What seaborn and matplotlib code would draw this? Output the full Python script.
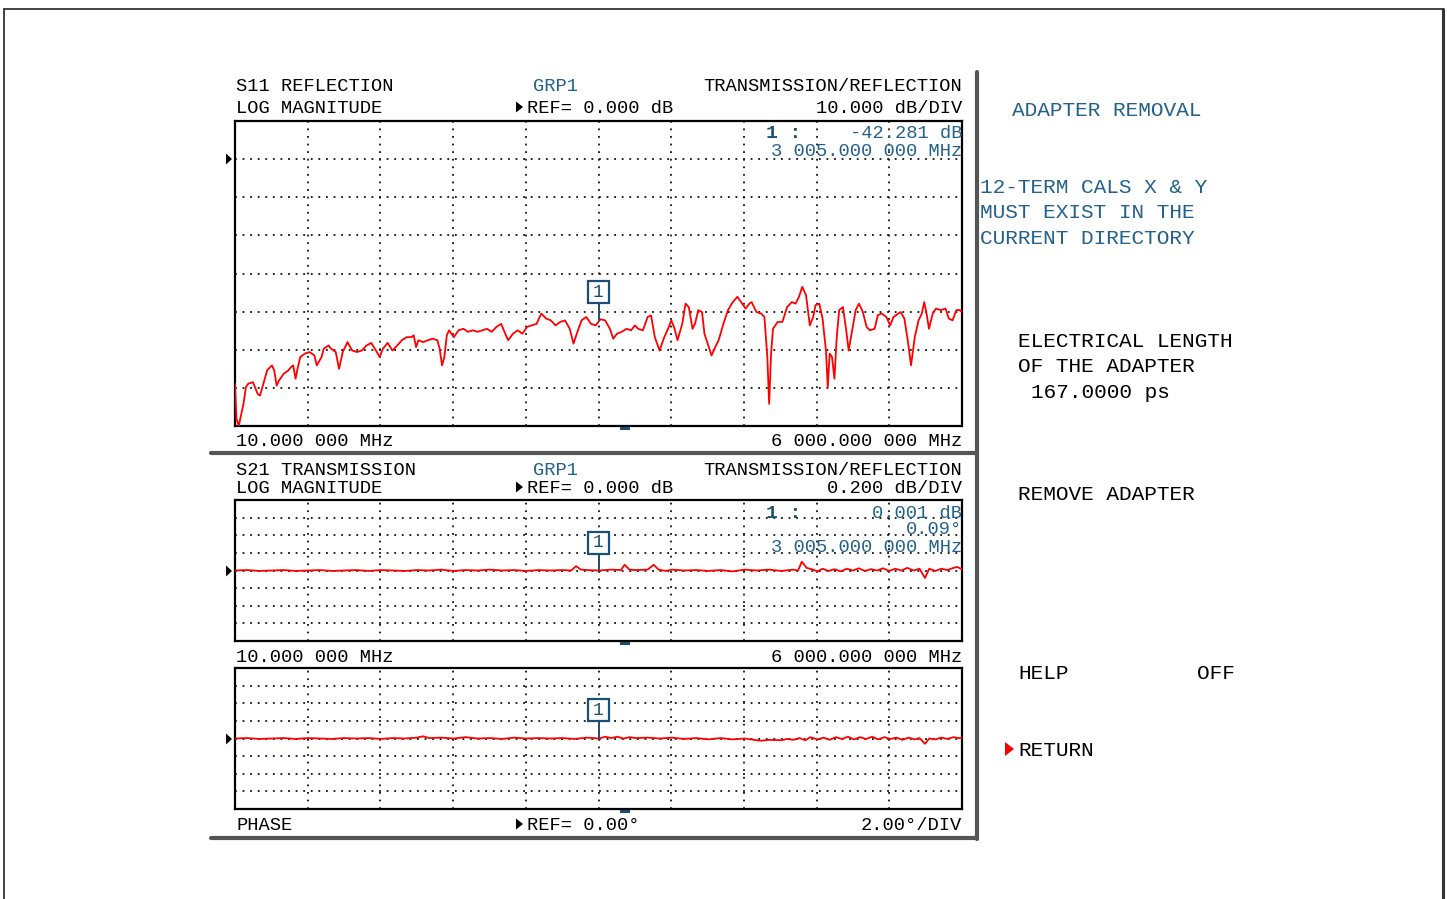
import numpy as np
import pandas as pd
import matplotlib
matplotlib.use("Agg")
import matplotlib.pyplot as plt
import seaborn as sns
from matplotlib.patches import Rectangle, Polygon
from matplotlib.lines import Line2D

# ---------------- data ----------------
F_START, F_STOP = 10, 6000          # MHz
MARKER_F = 3005                     # MHz
MARKER_S11 = -42.281                # dB
MARKER_S21 = 0.001                  # dB
MARKER_PH = 0.09                    # deg

s11_freq = [10, 22, 41, 80, 100, 119, 158, 197, 216, 236, 275, 314, 333, 353, 372, 411, 450, 470, 489, 509,
            528, 548, 586, 625, 664, 684, 723, 742, 781, 801, 840, 867, 898, 937, 976, 1015, 1054, 1093, 1132, 1171,
            1202, 1229, 1268, 1307, 1346, 1385, 1424, 1463, 1482, 1502, 1521, 1560, 1599, 1638, 1677, 1696, 1716, 1735, 1755, 1774,
            1813, 1852, 1891, 1930, 1969, 2008, 2047, 2086, 2125, 2164, 2203, 2242, 2261, 2300, 2339, 2378, 2417, 2456, 2495, 2534,
            2573, 2612, 2651, 2690, 2729, 2768, 2799, 2826, 2865, 2904, 2943, 2982, 3021, 3060, 3099, 3126, 3157, 3196, 3235, 3274,
            3305, 3332, 3371, 3410, 3438, 3469, 3508, 3547, 3578, 3605, 3632, 3656, 3695, 3722, 3749, 3780, 3800, 3827, 3858, 3878,
            3905, 3936, 3967, 3995, 4034, 4072, 4111, 4150, 4189, 4217, 4248, 4267, 4306, 4345, 4372, 4396, 4411, 4427, 4443, 4481,
            4520, 4559, 4598, 4629, 4657, 4684, 4715, 4746, 4774, 4793, 4824, 4851, 4879, 4894, 4910, 4929, 4949, 4968, 4988, 5019,
            5046, 5066, 5097, 5124, 5151, 5183, 5214, 5241, 5280, 5307, 5338, 5377, 5408, 5436, 5475, 5494, 5525, 5553, 5580, 5611,
            5642, 5669, 5689, 5708, 5728, 5759, 5786, 5825, 5864, 5891, 5922, 5954, 5981, 6000]
s11_db = [-58.9, -68.1, -69.9, -64.2, -59.8, -58.9, -58.5, -61.6, -62.0, -59.8, -55.4, -54.1, -55.4, -59.4, -58.1, -56.3, -55.4, -54.6, -54.1, -57.6,
          -54.6, -51.9, -51.0, -50.6, -51.5, -54.1, -51.9, -49.7, -48.9, -49.7, -50.6, -55.0, -50.6, -48.0, -50.2, -50.6, -50.2, -48.9, -48.2, -50.2,
          -51.9, -49.7, -48.2, -50.2, -48.9, -47.5, -46.7, -46.7, -46.2, -49.3, -47.5, -48.0, -47.5, -47.1, -47.5, -49.7, -54.1, -51.9, -46.2, -44.9,
          -46.7, -44.9, -44.5, -45.3, -44.9, -45.3, -44.9, -44.5, -45.3, -44.0, -43.2, -46.2, -47.5, -45.8, -44.9, -45.8, -44.0, -43.6, -43.2, -40.5,
          -41.8, -42.3, -43.6, -42.7, -42.3, -44.5, -48.4, -45.8, -42.3, -41.4, -43.2, -43.6, -42.0, -42.3, -44.5, -47.1, -45.8, -45.3, -44.5, -44.9,
          -43.6, -44.5, -44.9, -41.4, -41.0, -46.7, -50.2, -46.7, -44.5, -42.3, -44.5, -47.5, -43.2, -37.9, -38.8, -44.5, -43.2, -39.6, -40.1, -45.8,
          -48.4, -51.5, -49.3, -47.5, -43.2, -39.6, -37.5, -36.1, -37.9, -39.2, -37.9, -37.5, -40.1, -40.5, -41.4, -51.9, -64.2, -51.0, -44.5, -42.7,
          -42.7, -38.8, -37.5, -37.9, -36.1, -33.5, -35.7, -43.6, -41.4, -38.3, -37.9, -41.8, -50.2, -59.8, -51.0, -51.9, -57.6, -46.7, -39.6, -38.8,
          -44.9, -50.2, -44.5, -39.6, -37.9, -40.1, -44.0, -44.9, -44.5, -40.9, -40.5, -41.4, -43.6, -41.4, -40.5, -40.1, -41.8, -47.5, -54.1, -46.7,
          -42.3, -40.5, -37.5, -40.5, -44.5, -40.5, -39.2, -39.6, -39.2, -41.8, -42.3, -39.6, -39.6, -40.1]

s21_freq = [10, 110, 210, 310, 410, 510, 610, 710, 810, 910, 1010, 1110, 1210, 1310, 1410, 1510, 1610, 1710, 1810, 1910,
            2010, 2110, 2210, 2310, 2410, 2510, 2610, 2710, 2780, 2820, 2860, 2910, 3010, 3110, 3190, 3220, 3260, 3310, 3410, 3460,
            3500, 3560, 3610, 3710, 3810, 3910, 4010, 4110, 4210, 4310, 4410, 4510, 4610, 4650, 4680, 4720, 4760, 4810, 4850, 4900,
            4950, 5000, 5050, 5100, 5150, 5200, 5250, 5300, 5350, 5400, 5450, 5500, 5550, 5600, 5650, 5695, 5730, 5780, 5830, 5880,
            5930, 5960, 6000]
s21_db = [0.000, 0.005, -0.005, 0.000, 0.005, -0.005, 0.000, 0.005, -0.005, 0.000, 0.005, -0.005, 0.005, 0.000, -0.005, 0.005, 0.000, 0.010, -0.005, 0.005,
          0.000, 0.010, 0.000, 0.005, -0.005, 0.005, 0.000, 0.005, 0.000, 0.050, 0.010, 0.005, 0.000, 0.010, 0.005, 0.065, 0.010, 0.005, 0.010, 0.065,
          0.010, -0.005, 0.010, 0.000, 0.005, -0.005, 0.005, -0.010, 0.010, 0.000, 0.010, -0.005, 0.010, 0.000, 0.100, 0.030, 0.015, -0.010, 0.020, -0.005,
          0.015, -0.010, 0.020, 0.000, 0.025, -0.005, 0.015, 0.000, 0.025, -0.005, 0.020, 0.000, 0.030, 0.000, 0.020, -0.085, 0.020, -0.005, 0.020, 0.005,
          0.030, 0.040, 0.015]

ph_freq = [10, 110, 210, 310, 410, 510, 610, 710, 810, 910, 1010, 1110, 1210, 1310, 1410, 1510, 1560, 1610, 1710, 1810,
           1910, 2010, 2110, 2210, 2310, 2410, 2510, 2610, 2710, 2810, 2910, 3010, 3060, 3110, 3160, 3210, 3260, 3310, 3410, 3510,
           3610, 3710, 3810, 3910, 4010, 4110, 4210, 4310, 4350, 4410, 4510, 4560, 4610, 4660, 4710, 4750, 4810, 4860, 4910, 4960,
           5010, 5060, 5110, 5160, 5210, 5260, 5310, 5360, 5410, 5460, 5510, 5560, 5610, 5650, 5695, 5730, 5780, 5830, 5880, 5930,
           5970, 6000]
ph_deg = [0.00, 0.05, -0.05, 0.00, 0.05, -0.05, 0.05, 0.00, -0.05, 0.05, 0.00, 0.05, -0.05, 0.05, 0.00, 0.10, 0.25, 0.05, 0.10, 0.00,
          0.15, 0.00, 0.05, -0.05, 0.10, 0.00, 0.05, 0.00, 0.05, -0.05, 0.10, 0.00, 0.20, 0.05, 0.20, 0.00, 0.15, 0.05, 0.10, 0.00,
          0.10, -0.05, 0.05, -0.10, 0.05, -0.10, 0.00, -0.20, -0.25, -0.15, -0.20, -0.05, -0.15, 0.05, -0.20, 0.15, -0.10, 0.10, -0.15, 0.15,
          -0.05, 0.20, -0.10, 0.15, -0.05, 0.20, -0.10, 0.15, -0.05, 0.10, -0.15, 0.10, -0.10, 0.05, -0.60, 0.00, -0.10, 0.10, -0.05, 0.15,
          0.05, 0.10]

# ---------------- style ----------------
sns.set_theme(style="white")
plt.rcParams['font.family'] = ['Liberation Mono', 'DejaVu Sans Mono', 'DejaVu Sans']

W, H = 1447, 899
BLUE = '#23618c'
DKBLUE = '#1b4f72'
RED = '#ff0000'
FS = 13.5
FS_R = 15.2

fig = plt.figure(figsize=(W / 100, H / 100), dpi=100)
fig.patch.set_facecolor('white')


def ax_at(x0, y0, x1, y1):
    return fig.add_axes([x0 / W, 1 - y1 / H, (x1 - x0) / W, (y1 - y0) / H])


def make_plot(box, df, ycol, ylim, step, box_center, marker_val):
    x0, y0, x1, y1 = box
    ax = ax_at(x0, y0, x1, y1)
    ax.set_facecolor('white')
    ax.set_xlim(F_START, F_STOP)
    ax.set_ylim(*ylim)
    ax.set_xticks([]); ax.set_yticks([])
    for s in ax.spines.values():
        s.set_visible(True); s.set_color('black'); s.set_linewidth(1.6)
    div_f = (F_STOP - F_START) / 10
    for k in range(1, 10):
        ax.axvline(F_START + k * div_f, color='#111111', lw=1.3, ls=(0, (1, 3.2)), zorder=1)
    yv = ylim[0] + step
    while yv < ylim[1] - step / 2:
        ax.axhline(yv, color='#111111', lw=1.3, ls=(0, (1, 3.2)), zorder=1)
        yv += step
    sns.lineplot(data=df, x='freq', y=ycol, ax=ax, color=RED, lw=1.3, sort=False,
                 estimator=None, legend=False, zorder=3)
    ax.set_xlabel(''); ax.set_ylabel('')
    # marker box
    px_w = (x1 - x0) / (F_STOP - F_START)
    px_h = (y1 - y0) / (ylim[1] - ylim[0])
    bw = 21 / px_w
    bh = 22 / px_h
    ax.plot([MARKER_F, MARKER_F], [marker_val, box_center - bh / 2], color=DKBLUE, lw=1.4, zorder=4)
    ax.add_patch(Rectangle((MARKER_F - bw / 2, box_center - bh / 2), bw, bh, fc='white', ec=DKBLUE,
                           lw=1.6, zorder=5))
    ax.text(MARKER_F, box_center, '1', color=DKBLUE, fontsize=13, ha='center', va='center', zorder=6)
    return ax


df11 = pd.DataFrame({'freq': s11_freq, 'db': s11_db})
df21 = pd.DataFrame({'freq': s21_freq, 'db': s21_db})
dfph = pd.DataFrame({'freq': ph_freq, 'deg': ph_deg})

ax1 = make_plot((235, 121, 962, 426), df11, 'db', (-70, 10), 10, -34.9, MARKER_S11)
ax2 = make_plot((235, 500, 962, 641), df21, 'db', (-0.8, 0.8), 0.2, 0.3125, MARKER_S21)
ax3 = make_plot((235, 668, 962, 809), dfph, 'deg', (-8, 8), 2, 3.18, MARKER_PH)

# overlay in pixel coordinates
bg = fig.add_axes([0, 0, 1, 1], zorder=10)
bg.set_xlim(0, W); bg.set_ylim(H, 0); bg.axis('off')
bg.patch.set_alpha(0)

# frame lines
bg.add_line(Line2D([4, 1443], [9, 9], color='#333333', lw=1.3))
bg.add_line(Line2D([4, 4], [9, 899], color='#333333', lw=1.3))
bg.add_line(Line2D([1443, 1443], [9, 899], color='#333333', lw=2.2))
bg.add_line(Line2D([977, 977], [72, 839], color='#555555', lw=3))
bg.add_line(Line2D([211, 977], [453, 453], color='#555555', lw=3))
bg.add_line(Line2D([211, 977], [838, 838], color='#555555', lw=3))


def t(x, yc, s, color='black', ha='left', fs=FS, weight='normal'):
    bg.text(x, yc + (5.8 if fs < 14 else 6.8), s, color=color, ha=ha, va='baseline', fontsize=fs,
            fontweight=weight)


def tri(x, yc, color='black', w=6, h=10):
    bg.add_patch(Polygon([[x, yc - h / 2], [x, yc + h / 2], [x + w, yc]], closed=True, fc=color, ec='none'))


# plot 1 header
t(236, 85, 'S11 REFLECTION')
t(533, 85, 'GRP1', color=BLUE)
t(962, 85, 'TRANSMISSION/REFLECTION', ha='right')
t(236, 107, 'LOG MAGNITUDE')
tri(516, 107, w=7, h=11)
t(527, 107, 'REF= 0.000 dB')
t(962, 107, '10.000 dB/DIV', ha='right')
t(766, 131, '1 :', color=DKBLUE, fs=14, weight='bold')
t(962, 132, '-42.281 dB', color=BLUE, ha='right')
t(962, 150, '3 005.000 000 MHz', color=BLUE, ha='right')
t(236, 440, '10.000 000 MHz')
t(962, 440, '6 000.000 000 MHz', ha='right')

# plot 2 header
t(236, 469, 'S21 TRANSMISSION')
t(533, 469, 'GRP1', color=BLUE)
t(962, 469, 'TRANSMISSION/REFLECTION', ha='right')
t(236, 487, 'LOG MAGNITUDE')
tri(516, 487, w=7, h=11)
t(527, 487, 'REF= 0.000 dB')
t(962, 487, '0.200 dB/DIV', ha='right')
t(766, 511, '1 :', color=DKBLUE, fs=14, weight='bold')
t(962, 512, '0.001 dB', color=BLUE, ha='right')
t(962, 528, '0.09°', color=BLUE, ha='right')
t(962, 546, '3 005.000 000 MHz', color=BLUE, ha='right')
t(236, 656, '10.000 000 MHz')
t(962, 656, '6 000.000 000 MHz', ha='right')

# plot 3 footer
t(236, 824, 'PHASE')
tri(516, 824, w=7, h=11)
t(527, 824, 'REF= 0.00°')
t(962, 824, '2.00°/DIV', ha='right')

# reference-level arrows and centre ticks
for yc in (159, 571, 739):
    tri(226, yc, w=6, h=11)
for yb in (427, 642, 810):
    bg.add_patch(Rectangle((620, yb), 10, 2.5, fc=DKBLUE, ec='none'))

# right menu
t(1012, 109, 'ADAPTER REMOVAL', color=BLUE, fs=FS_R)
t(980, 186, '12-TERM CALS X & Y', color=BLUE, fs=FS_R)
t(980, 211, 'MUST EXIST IN THE', color=BLUE, fs=FS_R)
t(980, 237, 'CURRENT DIRECTORY', color=BLUE, fs=FS_R)
t(1018, 340, 'ELECTRICAL LENGTH', fs=FS_R)
t(1018, 365, 'OF THE ADAPTER', fs=FS_R)
t(1031, 391, '167.0000 ps', fs=FS_R)
t(1018, 493, 'REMOVE ADAPTER', fs=FS_R)
t(1018, 672, 'HELP', fs=FS_R)
t(1197, 672, 'OFF', fs=FS_R)
tri(1005, 749, color=RED, w=9, h=14)
t(1018, 749, 'RETURN', fs=FS_R)

fig.savefig('out.png', dpi=100, facecolor='white')
